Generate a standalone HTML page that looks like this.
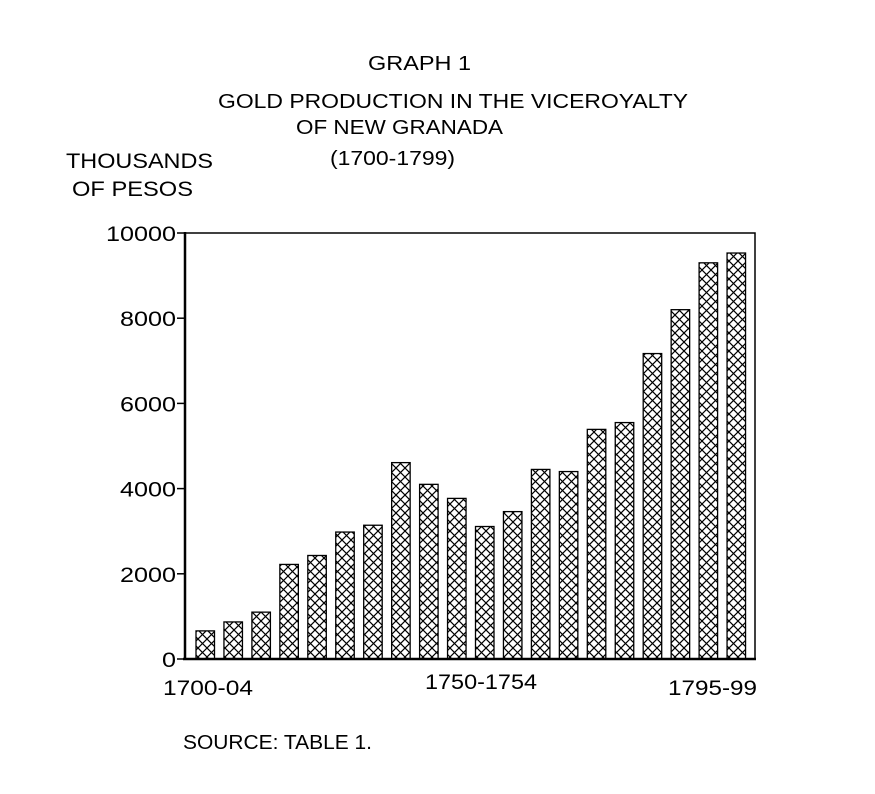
<!DOCTYPE html>
<html><head><meta charset="utf-8"><style>
body{margin:0;background:#fff;width:875px;height:794px;overflow:hidden}
svg{display:block}
text{font-family:"Liberation Sans",Arial,sans-serif;fill:#000}
</style></head><body>
<svg id="chart" width="875" height="794" xmlns="http://www.w3.org/2000/svg">
<defs>
<pattern id="hatch" patternUnits="userSpaceOnUse" width="9" height="9" x="0" y="0">
<path d="M0,0 L9,9 M9,0 L0,9" stroke="#000" stroke-width="1.2"/>
</pattern>
</defs>
<text x="368" y="70" font-size="20" textLength="103" lengthAdjust="spacingAndGlyphs">GRAPH 1</text>
<text x="218" y="108" font-size="20" textLength="470" lengthAdjust="spacingAndGlyphs">GOLD PRODUCTION IN THE VICEROYALTY</text>
<text x="296" y="134" font-size="20" textLength="207" lengthAdjust="spacingAndGlyphs">OF NEW GRANADA</text>
<text x="330" y="165" font-size="20" textLength="125" lengthAdjust="spacingAndGlyphs">(1700-1799)</text>
<text x="66" y="168" font-size="21" textLength="147" lengthAdjust="spacingAndGlyphs">THOUSANDS</text>
<text x="72" y="196" font-size="21" textLength="121" lengthAdjust="spacingAndGlyphs">OF PESOS</text>
<rect x="185" y="233" width="570" height="426" fill="none" stroke="#000" stroke-width="1.5"/>
<g id="bars"></g>
<line x1="183" y1="659" x2="756" y2="659" stroke="#000" stroke-width="2.5"/>
<line x1="185" y1="232" x2="185" y2="660" stroke="#000" stroke-width="2.5"/>
<g id="yticks"></g>
<text x="163" y="695" font-size="21" textLength="90" lengthAdjust="spacingAndGlyphs">1700-04</text>
<text x="425" y="689" font-size="21" textLength="112" lengthAdjust="spacingAndGlyphs">1750-1754</text>
<text x="668" y="695" font-size="21" textLength="89" lengthAdjust="spacingAndGlyphs">1795-99</text>
<text x="183" y="749" font-size="20" textLength="189" lengthAdjust="spacingAndGlyphs">SOURCE: TABLE 1.</text>
</svg>
<script>
const periods = ["1700-04","1705-09","1710-14","1715-19","1720-24","1725-29","1730-34","1735-39","1740-44","1745-49","1750-54","1755-59","1760-64","1765-69","1770-74","1775-79","1780-84","1785-89","1790-94","1795-99"];
const values = [660,870,1100,2220,2430,2980,3140,4610,4100,3770,3110,3460,4450,4400,5390,5550,7170,8200,9300,9530];
const yTicks = [0,2000,4000,6000,8000,10000];
const NS="http://www.w3.org/2000/svg";
const y0=659, yTop=233, yMax=10000;
function yScale(v){return y0-(v/yMax)*(y0-yTop);}
function xScale(i){return 196+i*27.95;}
const bw=18.5;
const gb=document.getElementById('bars');
periods.forEach((p,i)=>{
  const r=document.createElementNS(NS,'rect');
  
  
  const y=yScale(values[i]);
  r.setAttribute('x',xScale(i));r.setAttribute('y',y);
  r.setAttribute('width',bw);r.setAttribute('height',y0-y);
  r.setAttribute('fill','url(#hatch)');r.setAttribute('stroke','#000');r.setAttribute('stroke-width','1.3');
  gb.appendChild(r);
});
const gt=document.getElementById('yticks');
yTicks.forEach(t=>{
  const y=yScale(t);
  const l=document.createElementNS(NS,'line');
  
  
  l.setAttribute('x1',177);l.setAttribute('x2',185);l.setAttribute('y1',y);l.setAttribute('y2',y);
  l.setAttribute('stroke','#000');l.setAttribute('stroke-width','1.5');
  gt.appendChild(l);
  const tx=document.createElementNS(NS,'text');
  
  
  const s=String(t);
  const w=s.length*14;
  tx.setAttribute('x',176-w);tx.setAttribute('y',y+8);
  tx.setAttribute('font-size','21');
  tx.setAttribute('textLength',w);tx.setAttribute('lengthAdjust','spacingAndGlyphs');
  tx.textContent=s;
  gt.appendChild(tx);
});
</script>
</body></html>
